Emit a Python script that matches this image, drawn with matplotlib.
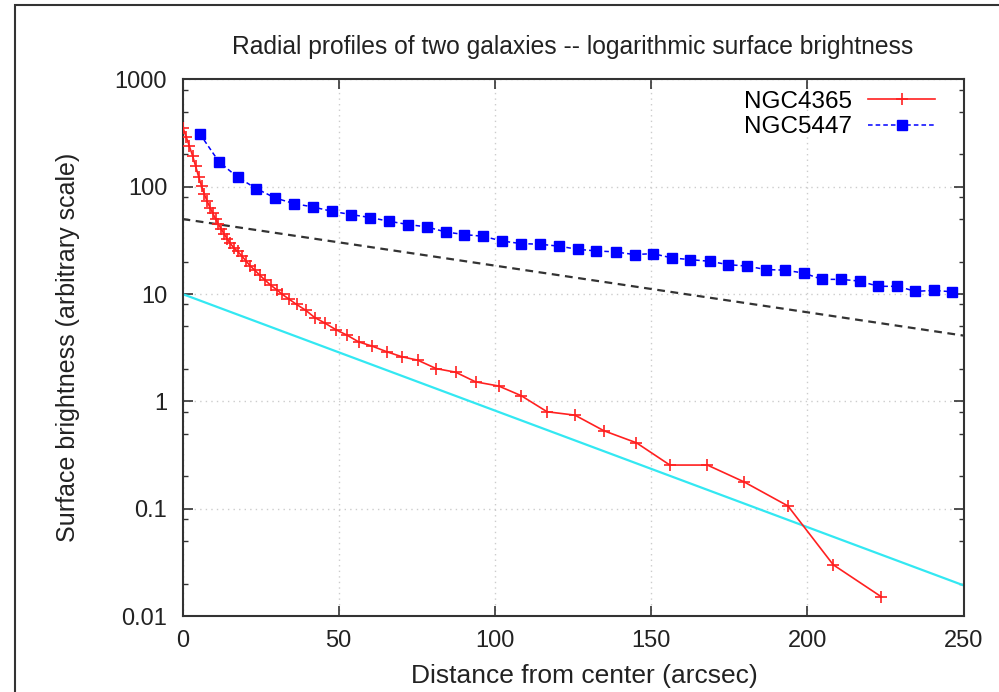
import matplotlib
matplotlib.use('Agg')
import matplotlib.pyplot as plt
from matplotlib.ticker import LogLocator, FixedLocator, NullFormatter
from matplotlib.patches import Rectangle

plt.rcParams['font.family'] = ['Liberation Sans', 'DejaVu Sans']

# NGC4365 radial profile (arcsec, arbitrary brightness)
r_4365 = [0.2, 1.2, 2.2, 3.2, 4.2, 5.2, 6.1, 7.0, 7.9, 8.8, 9.7, 10.6, 11.5,
          12.4, 13.3, 14.3, 15.3, 16.4, 17.6, 18.9, 20.2, 21.6, 23.1, 24.7,
          26.4, 28.2, 30.1, 32.0, 34.0, 36.5, 39.4, 42.3, 45.5, 49.0, 52.7,
          56.4, 60.7, 65.5, 70.3, 75.3, 81.2, 87.4, 93.8, 101.2, 108.4,
          116.7, 125.6, 134.9, 145.3, 156.0, 168.0, 179.7, 193.8, 208.3, 223.7]
sb_4365 = [350, 290, 238, 195, 155, 123, 101, 85, 73, 64, 56.5, 50, 44.6,
           40.3, 36.3, 32.6, 29.6, 27, 25, 22.8, 20.5, 18.4, 16.7, 15,
           13.5, 12.1, 11, 9.9, 9.0, 8.0, 7.07, 6.04, 5.38, 4.67, 4.13,
           3.58, 3.27, 2.89, 2.6, 2.42, 2.02, 1.87, 1.52, 1.39, 1.13,
           0.80, 0.744, 0.532, 0.411, 0.255, 0.255, 0.178, 0.106, 0.030, 0.0151]

# NGC5447 radial profile
r_5447 = [5.5, 11.7, 17.6, 23.6, 29.7, 35.7, 41.8, 47.8, 54.0, 60.1, 66.2,
          72.3, 78.2, 84.2, 90.2, 96.3, 102.2, 108.4, 114.5, 120.6, 126.5,
          132.5, 138.6, 144.7, 150.5, 156.7, 162.6, 168.7, 174.6, 180.7,
          186.8, 192.7, 198.8, 204.7, 210.8, 216.8, 222.7, 228.8, 234.6,
          240.5, 246.4]
sb_5447 = [312, 170, 123, 96, 78.5, 69.6, 64.7, 59, 55, 51.6, 47.6,
           44.4, 42.2, 37.9, 35.8, 34.5, 31.2, 29.5, 29.1, 27.9, 26.1,
           25.2, 24.7, 23.3, 23.8, 21.7, 20.9, 20.2, 18.8, 18.2,
           16.9, 16.7, 15.7, 13.7, 13.7, 13.2, 11.8, 11.8, 10.6,
           10.8, 10.5]

# exponential reference lines (straight on log scale), end points
fit_r = [0, 250]
fit_upper = [50, 4.1]
fit_lower = [10, 0.0193]

fig = plt.figure(figsize=(9.99, 6.92), dpi=100)
ax = fig.add_axes([0.1827, 0.1098, 0.7818, 0.7755])

ax.plot(fit_r, fit_upper, color='#333333', lw=1.6, ls=(0, (3.5, 2.5)), zorder=2)
ax.plot(fit_r, fit_lower, color='#33e8f2', lw=1.6, zorder=2)

ax.plot(r_4365, sb_4365, color='#ff2020', lw=1.2, marker='+', ms=8, mew=1.2,
        label='NGC4365', zorder=3)
ax.plot(r_5447, sb_5447, color='#0000ff', lw=1.1, ls=(0, (3, 2)), marker='s',
        ms=7, label='NGC5447', zorder=3)

ax.set_yscale('log')
ax.set_xlim(0, 250)
ax.set_ylim(0.01, 1000)
ax.set_xticks([0, 50, 100, 150, 200, 250])
ax.yaxis.set_major_locator(FixedLocator([0.01, 0.1, 1, 10, 100, 1000]))
ax.set_yticklabels(['0.01', '0.1', '1', '10', '100', '1000'])
ax.yaxis.set_minor_locator(LogLocator(base=10, subs=[2, 5, 8]))
ax.yaxis.set_minor_formatter(NullFormatter())

ax.tick_params(which='both', direction='in', top=True, right=True,
               colors='#333333', labelcolor='#222222', labelsize=17)
ax.tick_params(which='major', length=7, width=1.2)
ax.tick_params(which='minor', length=3.5, width=1.0)
ax.tick_params(axis='y', pad=11)
ax.tick_params(axis='x', pad=10)

for s in ax.spines.values():
    s.set_color('#333333')
    s.set_linewidth(1.5)

ax.grid(True, which='major', color='#cccccc', ls=(0, (1, 3)), lw=1)

ax.set_title('Radial profiles of two galaxies -- logarithmic surface brightness',
             fontsize=17.7, color='#222222', pad=18)
ax.set_xlabel('Distance from center (arcsec)', fontsize=19, color='#222222',
              labelpad=11)
ax.set_ylabel('Surface brightness (arbitrary scale)', fontsize=18,
              color='#222222', labelpad=25)
ax.xaxis.set_label_coords(0.514, -0.09)

ax.legend(loc='upper right', frameon=False, markerfirst=False, numpoints=1,
          fontsize=17.5, handlelength=2.75, handletextpad=0.66,
          labelspacing=0.15, borderpad=0, borderaxespad=0,
          bbox_to_anchor=(0.9635, 0.979))

# outer frame of the original plot window
fig.patches.append(Rectangle((15 / 999, -0.5), 2.0, 1.5 - 5 / 692,
                             transform=fig.transFigure, fill=False,
                             edgecolor='#333333', lw=1.5))

fig.savefig('out.png', dpi=100)
